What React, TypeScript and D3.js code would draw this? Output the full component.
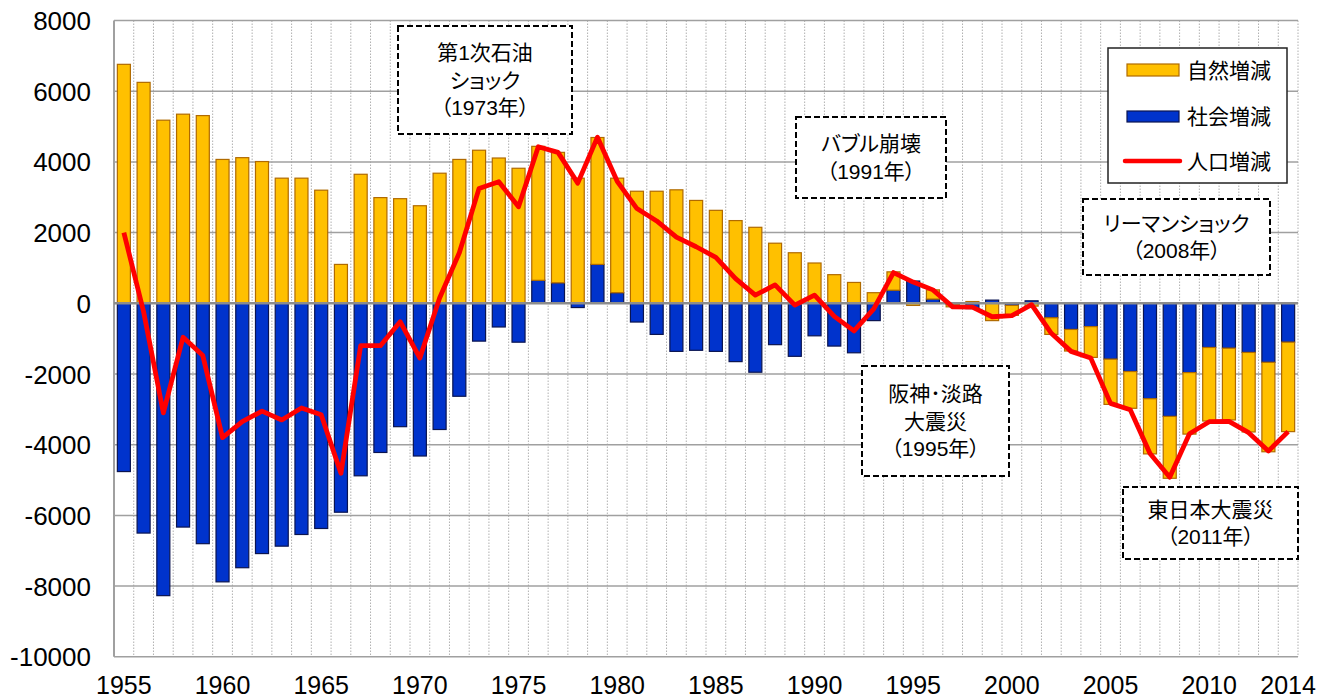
import React from "react";
import * as d3 from "d3";

const years = [
  1955, 1956, 1957, 1958, 1959, 1960, 1961, 1962, 1963, 1964,
  1965, 1966, 1967, 1968, 1969, 1970, 1971, 1972, 1973, 1974,
  1975, 1976, 1977, 1978, 1979, 1980, 1981, 1982, 1983, 1984,
  1985, 1986, 1987, 1988, 1989, 1990, 1991, 1992, 1993, 1994,
  1995, 1996, 1997, 1998, 1999, 2000, 2001, 2002, 2003, 2004,
  2005, 2006, 2007, 2008, 2009, 2010, 2011, 2012, 2013, 2014,
];

// 自然増減
const natural = [
  6760, 6250, 5180, 5350, 5310, 4070, 4120, 4010, 3540, 3540,
  3200, 1100, 3650, 2990, 2960, 2760, 3680, 4070, 4330, 4110,
  3820, 3790, 3690, 3540, 3590, 3240, 3170, 3170, 3210, 2910,
  2630, 2340, 2150, 1700, 1430, 1140, 810, 590, 300, 520,
  -60, 260, -70, 50, -490, -280, -80, -470, -610, -870,
  -1280, -1040, -1560, -1750, -1740, -2080, -2030, -2250, -2530, -2530,
];

// 社会増減
const social = [
  -4760, -6500, -8270, -6330, -6800, -7880, -7480, -7080, -6870, -6540,
  -6370, -5910, -4880, -4220, -3490, -4320, -3570, -2630, -1070, -670,
  -1100, 650, 580, -120, 1100, 300, -530, -880, -1360, -1330,
  -1360, -1650, -1950, -1170, -1500, -920, -1210, -1400, -490, 370,
  630, 120, -30, -150, 90, -60, 70, -410, -740, -660,
  -1580, -1930, -2700, -3200, -1960, -1250, -1270, -1390, -1670, -1100,
];

// 人口増減
const population = [
  2000, -240, -3100, -960, -1480, -3800, -3350, -3050, -3300, -2960,
  -3150, -4810, -1200, -1200, -520, -1550, 150, 1430, 3250, 3440,
  2730, 4430, 4270, 3400, 4700, 3450, 2680, 2330, 1870, 1600,
  1300, 700, 230, 520, -50, 230, -370, -780, -160, 870,
  600, 380, -100, -110, -380, -350, -40, -850, -1360, -1550,
  -2830, -3010, -4250, -4920, -3690, -3350, -3340, -3660, -4180, -3630,
];

const xTickLabels = [1955, 1960, 1965, 1970, 1975, 1980, 1985, 1990, 1995, 2000, 2005, 2010, 2014];
const yTicks = [-10000, -8000, -6000, -4000, -2000, 0, 2000, 4000, 6000, 8000];

const seriesNames = ["自然増減", "社会増減", "人口増減"];

const annotations = [
  { lines: ["第1次石油", "ショック", "（1973年）"], box: [398, 26, 572, 134] },
  { lines: ["バブル崩壊", "（1991年）"], box: [796, 117, 946, 198] },
  { lines: ["リーマンショック", "（2008年）"], box: [1083, 199, 1270, 275] },
  { lines: ["阪神･淡路", "大震災", "（1995年）"], box: [862, 366, 1009, 476] },
  { lines: ["東日本大震災", "（2011年）"], box: [1123, 487, 1298, 559] },
];

const W = 1335;
const H = 700;
const left = 114;
const right = 1298;
const top = 20.5;
const bottom = 656.8;

const ORANGE = "#FFC000";
const ORANGE_STROKE = "#B06A00";
const BLUE = "#0033CC";
const BLUE_STROKE = "#0A1450";
const RED = "#FF0000";
const GRID = "#A0A0A0";
const FONT = "'Liberation Sans', Arial, 'Noto Sans CJK JP', sans-serif";
const JFONT = "'Liberation Sans', Arial, 'Noto Sans CJK JP', sans-serif";

export default function App() {
  const x = d3.scaleBand<number>().domain(years).range([left, right]).paddingInner(0.34).paddingOuter(0.17);
  const y = d3.scaleLinear().domain([-10000, 8000]).range([bottom, top]);
  const step = x.step();

  const rows = years.map((yr, i) => ({ year: yr, social: social[i], natural: natural[i] }));
  const stack = d3.stack<any>().keys(["social", "natural"]).offset(d3.stackOffsetDiverging);
  const stacked = stack(rows);

  const line = d3
    .line<number>()
    .x((_, i) => (x(years[i]) as number) + x.bandwidth() / 2)
    .y((d) => y(d));

  const boundaries = d3.range(1, years.length + 1).map((k) => left + step * k);

  const colors: Record<string, [string, string]> = {
    social: [BLUE, BLUE_STROKE],
    natural: [ORANGE, ORANGE_STROKE],
  };

  const lineH = 27.5;

  return (
    <svg width={W} height={H} style={{ position: "absolute", left: 0, top: 0, background: "#fff" }}>
      <rect x={0} y={0} width={W} height={H} fill="#fff" />
      {/* vertical dotted grid */}
      {boundaries.map((bx, i) => (
        <line key={"v" + i} x1={bx} x2={bx} y1={top} y2={bottom} stroke="#B0B0B0" strokeWidth={1} strokeDasharray="1.5,1.5" />
      ))}
      {/* horizontal grid */}
      {yTicks.map((t) => (
        <line key={"h" + t} x1={left} x2={right} y1={y(t)} y2={y(t)} stroke={GRID} strokeWidth={1.5} />
      ))}
      {/* left axis */}
      <line x1={left} x2={left} y1={top} y2={bottom} stroke={GRID} strokeWidth={2} />
      {/* bars */}
      {stacked.map((s) => (
        <g key={s.key}>
          {s.map((d, i) => {
            const y0 = y(d[0]);
            const y1 = y(d[1]);
            const h = Math.abs(y0 - y1);
            if (h < 0.01) return null;
            return (
              <rect
                key={i}
                x={x(years[i])}
                width={x.bandwidth()}
                y={Math.min(y0, y1)}
                height={h}
                fill={colors[s.key][0]}
                stroke={colors[s.key][1]}
                strokeWidth={1.2}
              />
            );
          })}
        </g>
      ))}
      {/* zero line */}
      <line x1={left} x2={right} y1={y(0)} y2={y(0)} stroke="#8C8C8C" strokeWidth={2.5} />
      {/* population line */}
      <path d={line(population) || ""} fill="none" stroke={RED} strokeWidth={4.8} strokeLinejoin="round" />
      {/* y labels */}
      {yTicks.map((t) => (
        <text key={"yl" + t} x={91} y={y(t) + 9.5} textAnchor="end" fontFamily={FONT} fontSize={26} fill="#000">
          {t}
        </text>
      ))}
      {/* x labels */}
      {xTickLabels.map((t) => (
        <text
          key={"xl" + t}
          x={(x(t) as number) + x.bandwidth() / 2}
          y={694}
          textAnchor="middle"
          fontFamily={FONT}
          fontSize={25}
          fill="#000"
        >
          {t}
        </text>
      ))}
      {/* annotations */}
      {annotations.map((a, k) => {
        const [x0, y0, x1, y1] = a.box;
        const cx = (x0 + x1) / 2;
        const cy = (y0 + y1) / 2;
        const n = a.lines.length;
        return (
          <g key={"a" + k}>
            <rect x={x0} y={y0} width={x1 - x0} height={y1 - y0} fill="#fff" stroke="#000" strokeWidth={2} strokeDasharray="6,3" />
            {a.lines.map((ln, j) => (
              <text
                key={j}
                x={cx}
                y={cy + (j - (n - 1) / 2) * lineH + 7.5}
                textAnchor="middle"
                fontFamily={JFONT}
                fontSize={21}
                fill="#000"
                style={{ fontFeatureSettings: '"palt"' }}
              >
                {ln}
              </text>
            ))}
          </g>
        );
      })}
      {/* legend */}
      <g>
        <rect x={1108} y={48} width={179} height={135} fill="#fff" stroke="#222" strokeWidth={1.5} />
        <rect x={1127} y={64} width={52} height={12} fill={ORANGE} stroke={ORANGE_STROKE} strokeWidth={1.2} />
        <rect x={1127} y={111} width={52} height={11} fill={BLUE} stroke={BLUE_STROKE} strokeWidth={1.2} />
        <line x1={1125} x2={1180} y1={161} y2={161} stroke={RED} strokeWidth={4.5} strokeLinecap="round" />
        {seriesNames.map((nm, i) => (
          <text key={nm} x={1187} y={[70, 116, 161][i] + 7.5} fontFamily={JFONT} fontSize={21} fill="#000">
            {nm}
          </text>
        ))}
      </g>
    </svg>
  );
}
